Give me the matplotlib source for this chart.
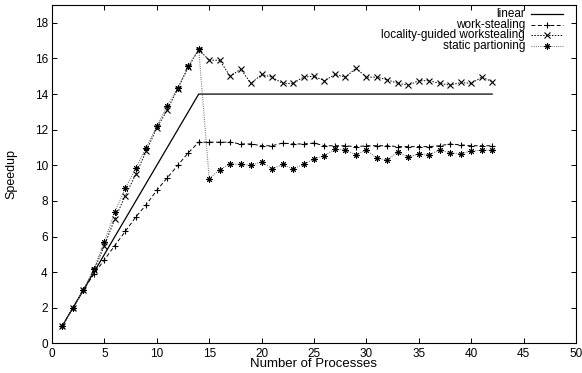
import matplotlib
matplotlib.use('Agg')
import matplotlib.pyplot as plt
from matplotlib.lines import Line2D

plt.rcParams['font.family'] = ['Liberation Sans', 'DejaVu Sans']
plt.rcParams['font.size'] = 8.5

procs = list(range(1, 43))

linear = [min(p, 14) for p in procs]

work_stealing = [1.0, 2.0, 3.0, 3.9, 4.7, 5.5, 6.3, 7.1, 7.8, 8.6,
                 9.3, 10.0, 10.7, 11.3, 11.3, 11.3, 11.3, 11.2, 11.2, 11.1,
                 11.1, 11.25, 11.2, 11.2, 11.25, 11.1, 11.1, 11.1, 11.05, 11.1,
                 11.1, 11.1, 11.05, 11.05, 11.05, 11.05, 11.1, 11.2, 11.15, 11.1,
                 11.1, 11.1]

locality = [1.0, 2.0, 3.0, 4.1, 5.5, 7.0, 8.3, 9.5, 10.8, 12.1,
            13.1, 14.3, 15.5, 16.5, 15.9, 15.9, 15.0, 15.4, 14.6, 15.1,
            14.95, 14.6, 14.6, 14.95, 15.0, 14.75, 15.1, 14.95, 15.45, 14.95,
            14.95, 14.8, 14.6, 14.5, 14.75, 14.75, 14.6, 14.5, 14.65, 14.6,
            14.95, 14.7]

static = [1.0, 2.0, 3.0, 4.2, 5.7, 7.4, 8.7, 9.85, 11.0, 12.2,
          13.35, 14.35, 15.55, 16.55, 9.25, 9.75, 10.1, 10.05, 10.0, 10.2,
          9.8, 10.05, 9.8, 10.05, 10.35, 10.55, 10.9, 10.85, 10.6, 10.85,
          10.4, 10.3, 10.75, 10.45, 10.65, 10.6, 10.85, 10.7, 10.65, 10.8,
          10.85, 10.85]

labels = ['linear', 'work-stealing', 'locality-guided workstealing', 'static partioning']
styles = [
    dict(color='black', linestyle='-', linewidth=0.9),
    dict(color='black', linestyle=(0, (4, 2.5)), linewidth=0.7, marker='+', markersize=5, markeredgewidth=0.8),
    dict(color='black', linestyle=(0, (1.5, 1.5)), linewidth=0.7, marker='x', markersize=4, markeredgewidth=0.8),
    dict(color='#666666', linestyle=(0, (0.8, 1.2)), linewidth=0.8, marker=(8, 2, 0), markersize=4.5,
         markeredgewidth=0.7, markeredgecolor='black'),
]

fig = plt.figure(figsize=(5.82, 3.73), dpi=100)
ax = fig.add_axes([0.0893, 0.0791, 0.9004, 0.9075])

for ys, st in zip([linear, work_stealing, locality, static], styles):
    ax.plot(procs, ys, **st)

ax.set_xlim(0, 50)
ax.set_ylim(0, 19)
ax.set_xticks(range(0, 51, 5))
ax.set_yticks(range(0, 19, 2))
ax.tick_params(direction='in', top=True, right=True, length=3.5, width=0.7, pad=3)
for s in ax.spines.values():
    s.set_linewidth(0.8)
ax.set_xlabel('Number of Processes', labelpad=-1, fontsize=9.5)
ax.set_ylabel('Speedup', labelpad=12, fontsize=9)

# legend, gnuplot style: text right-aligned, sample to the right
for i, (lab, st) in enumerate(zip(labels, styles)):
    y = 0.973 - i * 0.0315
    ax.text(0.903, y, lab, transform=ax.transAxes, ha='right', va='center', fontsize=8.5)
    ax.add_line(Line2D([0.914, 0.975], [y, y], transform=ax.transAxes, **{k: v for k, v in st.items()
                                                                            if not k.startswith('marker')}))
    if 'marker' in st:
        ax.add_line(Line2D([0.945], [y], transform=ax.transAxes, linestyle='none',
                           color=st['color'], marker=st['marker'], markersize=st['markersize'],
                           markeredgewidth=st['markeredgewidth'],
                           markeredgecolor=st.get('markeredgecolor', st['color'])))

fig.savefig('out.png', dpi=100)
